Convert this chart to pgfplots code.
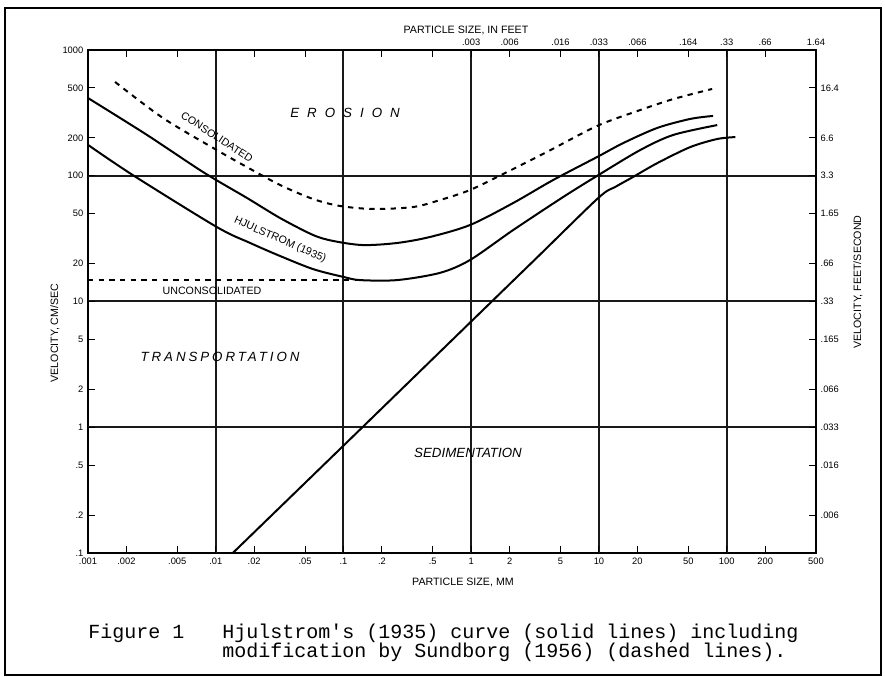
\documentclass[border=0pt]{standalone}
\usepackage{pgfplots}
\pgfplotsset{compat=1.18}
\usepackage{fontspec}
\setmainfont{Liberation Sans}
\newfontfamily\capfont{Liberation Mono}

\begin{document}
\begin{tikzpicture}
\useasboundingbox (0,0) rectangle (663.75pt,507.75pt);

% main axis: mm and cm/sec
\begin{axis}[at={(66pt,93pt)},anchor=south west,scale only axis,
  width=546pt,height=377.25pt,
  xmode=log,ymode=log,xmin=0.001,xmax=500,ymin=0.1,ymax=1000,
  axis line style={line width=1.5pt},
  tick align=inside,xtick pos=bottom,ytick pos=left,
  major tick length=5.5pt,xminorticks=false,yminorticks=false,
  every tick/.style={black,line width=0.75pt},
  tick label style={font=\fontsize{7}{8}\selectfont},
  xtick={0.001,0.002,0.005,0.02,0.05,0.2,0.5,2,5,20,50,200,500},
  xticklabels={.001,.002,.005,.02,.05,.2,.5,2,5,20,50,200,500},
  ytick={0.1,0.2,0.5,2,5,20,50,200,500,1000},
  yticklabels={.1,.2,.5,2,5,20,50,200,500,1000},
  extra x ticks={0.01,0.1,1,10,100},extra x tick labels={.01,.1,1,10,100},
  extra y ticks={1,10,100},extra y tick labels={1,10,100},
  extra tick style={grid=major},
  major grid style={black!90,line width=1.5pt},
]
% Hjulstrom upper curve
\addplot[black,smooth,line width=1.5pt] coordinates {
 (0.001,415) (0.0029,211) (0.00796,107) (0.0176,66.5) (0.0319,46.1)
 (0.0578,33.8) (0.083,30.3) (0.142,28.1) (0.263,29.2) (0.476,32.6)
 (0.98,40.6) (2.13,60.7) (4.38,92.5) (9.68,141) (15.5,182) (28.6,240)
 (51.8,283) (78.3,299)
};
% Hjulstrom lower erosion curve
\addplot[black,smooth,line width=1.5pt] coordinates {
 (0.001,176) (0.00225,101) (0.0102,39.1) (0.0186,29.2) (0.0319,23.0)
 (0.0578,18.1) (0.0993,15.7) (0.135,14.8) (0.263,14.8) (0.570,16.9)
 (0.98,21.4) (2.13,37.0) (5.25,67.8) (9.86,101) (21.0,160) (38.1,211)
 (84.3,253)
};
% sedimentation (fall velocity) line
\addplot[black,smooth,line width=1.5pt] coordinates {
 (0.0136,0.1) (0.1,0.714) (1,6.94) (3.16,21.6) (9.86,66.5) (13.4,81.4)
 (18.5,97.8) (28.6,126) (51.8,169) (84.3,196) (117,203)
};
% Sundborg consolidated (dashed)
\addplot[black,smooth,line width=1.5pt,dash pattern=on 4pt off 4pt] coordinates {
 (0.00163,557) (0.00386,288) (0.0102,160) (0.0176,117) (0.0319,84.4)
 (0.0578,65.3) (0.094,57.5) (0.171,54.4) (0.351,56.4) (0.570,64.1)
 (0.98,77.1) (1.91,107) (3.93,155) (9.68,249) (21.0,333) (38.1,407)
 (76.9,490)
};
% Sundborg unconsolidated (dashed)
\addplot[black,line width=1.5pt,dash pattern=on 4pt off 4pt] coordinates {
 (0.001,14.8) (0.135,14.8)
};
\end{axis}

% secondary axis: feet and feet/second
\begin{axis}[at={(66pt,93pt)},anchor=south west,scale only axis,
  width=546pt,height=377.25pt,
  xmode=log,ymode=log,xmin=0.001,xmax=500,ymin=0.1,ymax=1000,
  axis x line*=top,axis y line*=right,
  axis line style={line width=1.5pt},
  tick align=inside,major tick length=5.5pt,
  xminorticks=false,yminorticks=false,
  every tick/.style={black,line width=0.75pt},
  tick label style={font=\fontsize{7}{8}\selectfont},
  xtick={0.002,0.005,0.02,0.05,0.2,0.5,1,2,5,10,20,50,100,200,500},
  xticklabels={,,,,,,.003,.006,.016,.033,.066,.164,.33,.66,1.64},
  ytick={0.2,0.5,1,2,5,10,20,50,100,200,500},
  yticklabels={.006,.016,.033,.066,.165,.33,.66,1.65,3.3,6.6,16.4},
]
\addplot[draw=none] coordinates {(1,1)};
\end{axis}

\begin{scope}[x=0.75pt,y=0.75pt]
\draw[line width=1.8pt] (5,2) rectangle (881,669);
\node[font=\fontsize{8}{9}\selectfont] at (466,647) {PARTICLE SIZE, IN FEET};
\node[font=\fontsize{8}{9}\selectfont] at (463,95) {PARTICLE SIZE, MM};
\node[font=\fontsize{8}{9}\selectfont,rotate=90] at (55,344) {VELOCITY, CM/SEC};
\node[font=\fontsize{8}{9}\selectfont,rotate=90] at (858,395) {VELOCITY, FEET/SECOND};

\node[font=\fontsize{10}{12}\selectfont\itshape\addfontfeature{LetterSpace=60}] at (345,564) {EROSION};
\node[font=\fontsize{10}{12}\selectfont\itshape\addfontfeature{LetterSpace=22}] at (220,320) {TRANSPORTATION};
\node[font=\fontsize{10}{12}\selectfont\itshape] at (468,224) {SEDIMENTATION};
\node[font=\fontsize{8}{9}\selectfont,rotate=-33.5] at (217,540) {CONSOLIDATED};
\node[font=\fontsize{8}{9}\selectfont,rotate=-23.5] at (280,437) {HJULSTROM (1935)};
\node[font=\fontsize{8}{9}\selectfont] at (212,386) {UNCONSOLIDATED};

\node[anchor=base west,font=\capfont\fontsize{15}{18}\selectfont,inner sep=0pt] at (88,38) {Figure 1};
\node[anchor=base west,font=\capfont\fontsize{15}{18}\selectfont,inner sep=0pt] at (222,38) {Hjulstrom's (1935) curve (solid lines) including};
\node[anchor=base west,font=\capfont\fontsize{15}{18}\selectfont,inner sep=0pt] at (222,19) {modification by Sundborg (1956) (dashed lines).};
\end{scope}
\end{tikzpicture}
\end{document}
